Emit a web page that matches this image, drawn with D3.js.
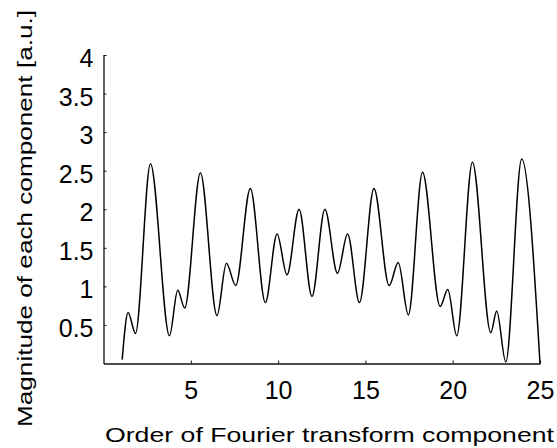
<!DOCTYPE html>
<html>
<head>
<meta charset="utf-8">
<script src="https://cdn.jsdelivr.net/npm/d3@7"></script>
<style>
  html, body { margin: 0; padding: 0; background: #fff; }
  svg { display: block; font-family: "Liberation Sans", Arial, sans-serif; }
</style>
</head>
<body>
<div id="chart"></div>
<script>
// curve: local maxima / minima of the magnitude
const order = [1.07, 1.41, 1.83, 2.69, 3.78, 4.25, 4.65, 5.55, 6.50, 7.04, 7.57, 8.41,
               9.27, 9.94, 10.51, 11.20, 11.94, 12.68, 13.40, 13.98, 14.66, 15.49, 16.36,
               16.88, 17.46, 18.27, 19.28, 19.72, 20.23, 21.13, 22.18, 22.52, 23.04, 23.95, 25.0];
const magnitude = [0.05, 0.66, 0.39, 2.59, 0.36, 0.95, 0.72, 2.47, 0.62, 1.30, 1.01, 2.27,
                   0.79, 1.68, 1.15, 2.00, 0.87, 2.00, 1.17, 1.68, 0.79, 2.27, 1.01,
                   1.31, 0.63, 2.48, 0.74, 0.96, 0.36, 2.61, 0.40, 0.68, 0.02, 2.65, 0.0];
const xTicks = [5, 10, 15, 20, 25];
const yTicks = [0.5, 1, 1.5, 2, 2.5, 3, 3.5, 4];

const width = 557, height = 448;
const margin = { left: 103.5, right: 540, top: 55, bottom: 363.5 };

const svg = d3.select("#chart").append("svg")
    .attr("width", width)
    .attr("height", height);

const x = d3.scaleLinear().domain([0, 25]).range([margin.left, margin.right]);
const y = d3.scaleLinear().domain([0, 4]).range([margin.bottom, margin.top]);

const data = order.map((o, i) => ({ o, m: magnitude[i] }));

// axes, ticks pointing inward
const xAxis = svg.append("g")
    .attr("transform", `translate(0,${margin.bottom})`)
    .call(d3.axisBottom(x).tickValues(xTicks).tickSize(-3).tickSizeOuter(0).tickPadding(18));

const yAxis = svg.append("g")
    .attr("transform", `translate(${margin.left},0)`)
    .call(d3.axisLeft(y).tickValues(yTicks).tickFormat(d3.format("")).tickSize(-3).tickSizeOuter(0).tickPadding(10));

[xAxis, yAxis].forEach(g => {
    g.select(".domain").attr("stroke", "#111").attr("stroke-width", 1.3);
    g.selectAll(".tick line").attr("stroke", "#111").attr("stroke-width", 1);
    g.selectAll(".tick text")
        .attr("fill", "#000")
        .style("font-size", "25px")
        .style("font-family", "'Liberation Sans', Arial, sans-serif");
});
yAxis.selectAll(".tick text").attr("dy", "0.46em");

// the curve
svg.append("path")
    .datum(data)
    .attr("fill", "none")
    .attr("stroke", "#000")
    .attr("stroke-width", 1.5)
    .attr("stroke-linejoin", "round")
    .attr("d", d3.line()
        .x(d => x(d.o))
        .y(d => y(d.m))
        .curve(d3.curveMonotoneX));

// axis titles
svg.append("text")
    .attr("x", 105)
    .attr("y", 442)
    .attr("textLength", 449)
    .attr("lengthAdjust", "spacingAndGlyphs")
    .style("font-size", "21px")
    .text("Order of Fourier transform component");

svg.append("text")
    .attr("transform", "translate(32,427) rotate(-90)")
    .attr("textLength", 417)
    .attr("lengthAdjust", "spacingAndGlyphs")
    .style("font-size", "21px")
    .text("Magnitude of each component [a.u.]");
</script>
</body>
</html>
